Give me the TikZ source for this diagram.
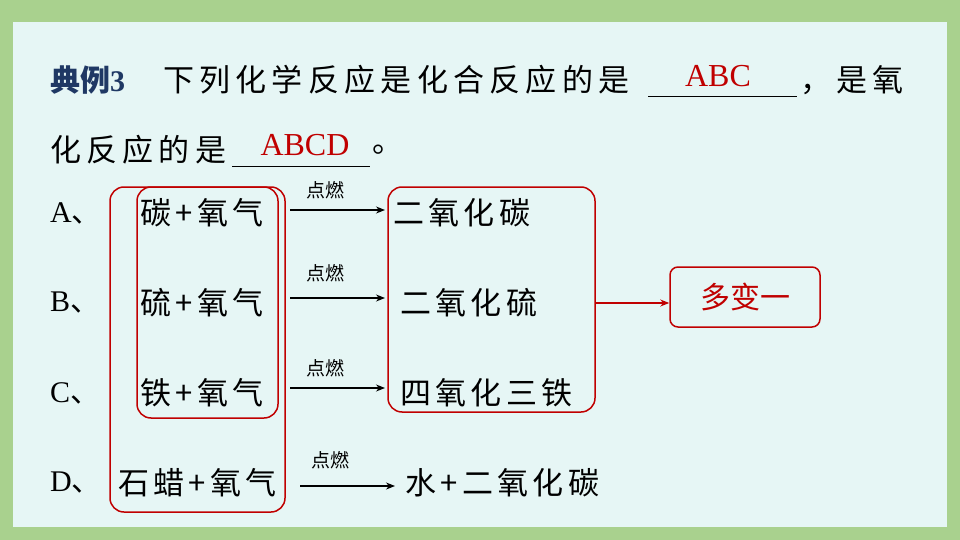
\documentclass[tikz,border=0pt]{standalone}
\usepackage{fontspec}
\setmainfont{Liberation Serif}
\newfontfamily\cjk{Noto Sans CJK SC}
\newfontfamily\cjkw[LetterSpace=17]{Noto Sans CJK SC}
\newfontfamily\cjkm[LetterSpace=14]{Noto Sans CJK SC}
\definecolor{bord}{HTML}{A9D18E}
\definecolor{panel}{HTML}{E6F6F5}
\definecolor{dred}{HTML}{C00000}
\definecolor{navy}{HTML}{1F3864}
\tikzset{
 big/.style={font=\fontsize{31}{33}\selectfont\cjkw, anchor=west, inner sep=0},
 mid/.style={font=\fontsize{31}{33}\selectfont\cjkm, anchor=west, inner sep=0},
 lat/.style={font=\fontsize{30}{32}\selectfont, anchor=west, inner sep=0},
 ans/.style={font=\fontsize{32}{34}\selectfont, text=dred, inner sep=0},
 fire/.style={font=\fontsize{19}{21}\selectfont\cjk, inner sep=0},
 rbox/.style={draw=dred, line width=1.5pt, rounded corners=14pt},
 arr/.style={-{Stealth[length=9pt,width=7pt]}, line width=1.2pt},
}
\usetikzlibrary{arrows.meta}
\begin{document}
\begin{tikzpicture}[x=1pt,y=-1pt]
\fill[bord] (0,0) rectangle (960,540);
\fill[panel] (13,22) rectangle (947,527);
% title
\node[lat, font=\fontsize{30}{32}\selectfont\bfseries, text=navy] (t0) at (50,80) {{\cjk 典例}3};
\node[big] (t1) at (163,80) {下列化学反应是化合反应的是};
\draw[line width=0.6pt] (648,96) coordinate (u1a) -- (797,96) coordinate (u1b);
\node[ans] (a1) at (718,76) {ABC};
\node[big] (t2) at (800,80) {，是氧};
\node[big] (t3) at (50,150) {化反应的是};
\draw[line width=0.6pt] (232,166) coordinate (u2a) -- (370,166) coordinate (u2b);
\node[ans] (a2) at (305,145) {ABCD};
\node[big] (t4) at (372,150) {。};
% rows
\node[lat] (la) at (50,213) {A{\cjk 、}};
\node[lat] (lb) at (50,303) {B{\cjk 、}};
\node[lat] (lc) at (50,393) {C{\cjk 、}};
\node[lat] (ld) at (50,483) {D{\cjk 、}};
\node[mid] (ra) at (140,213) {碳+氧气};
\node[mid] (rb) at (140,303) {硫+氧气};
\node[mid] (rc) at (140,393) {铁+氧气};
\node[mid] (rd) at (118,483) {石蜡+氧气};
\node[mid] (pa) at (393,213) {二氧化碳};
\node[mid] (pb) at (400,303) {二氧化硫};
\node[mid] (pc) at (400,393) {四氧化三铁};
\node[mid] (pd) at (405,483) {水+二氧化碳};
\coordinate (s1) at (290,210); \coordinate (e1) at (385,210);
\coordinate (s2) at (290,298); \coordinate (e2) at (385,298);
\coordinate (s3) at (290,388); \coordinate (e3) at (385,388);
\coordinate (s4) at (300,486); \coordinate (e4) at (395,486);
\draw[arr] (s1) -- (e1); \draw[arr] (s2) -- (e2);
\draw[arr] (s3) -- (e3); \draw[arr] (s4) -- (e4);
\node[fire] (f1) at (325,190) {点燃};
\node[fire] (f2) at (325,273) {点燃};
\node[fire] (f3) at (325,368) {点燃};
\node[fire] (f4) at (330,460) {点燃};
% boxes
\draw[rbox] (110,187) rectangle (285,512);
\draw[rbox] (137,187) rectangle (278,418);
\draw[rbox] (388,187) rectangle (595,412);
\node[rbox, rounded corners=8pt, minimum width=150pt, minimum height=60pt, font=\fontsize{30}{32}\selectfont\cjk, text=dred] (m) at (745,297) {多变一};
\coordinate (rb1) at (595,303);
\draw[-{Stealth[length=9pt,width=7pt]}, line width=1.2pt, dred] (rb1) -- (m.west|-rb1);
\end{tikzpicture}
\end{document}
